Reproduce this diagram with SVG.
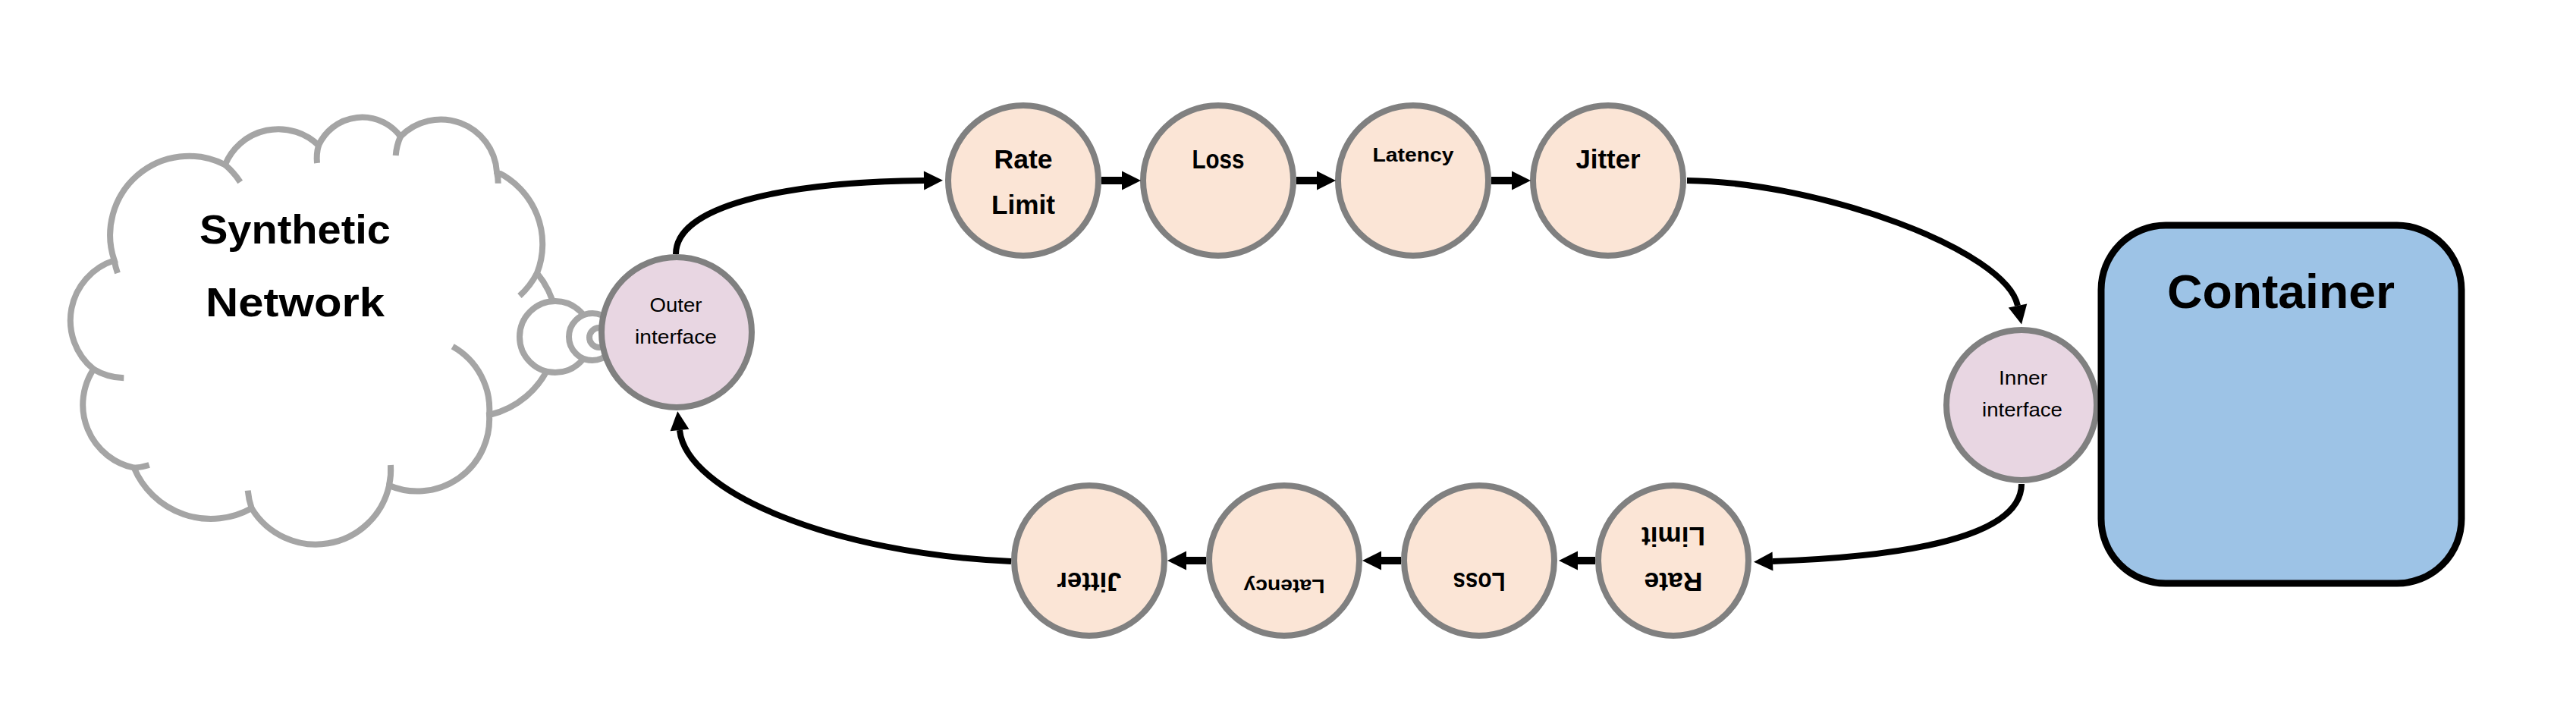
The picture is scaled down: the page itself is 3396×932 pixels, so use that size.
<svg xmlns="http://www.w3.org/2000/svg" width="3396" height="932" viewBox="0 0 3396 932">
  <style>
    .cloud { fill: #FFFFFF; stroke: #A5A5A5; stroke-width: 8; }
    .poke { fill: none; stroke: #A5A5A5; stroke-width: 8; }
    .bub { fill: #FFFFFF; stroke: #A5A5A5; stroke-width: 8; }
    .stage { fill: #FBE5D6; stroke: #808080; stroke-width: 8; }
    .iface { fill: #E8D6E2; stroke: #808080; stroke-width: 8; }
    .box { fill: #9DC3E6; stroke: #000000; stroke-width: 9; }
    .lbl { font-family: "Liberation Sans", Arial, sans-serif; fill: #000000; text-anchor: middle; }
    .b { font-weight: bold; }
    .big { font-size: 35px; }
    .mid { font-size: 26px; }
    .small { font-size: 26px; }
    .conn { fill: none; stroke: #000000; stroke-width: 8; marker-end: url(#ah); }
    .short { fill: none; stroke: #000000; stroke-width: 10; marker-end: url(#ah); }
  </style>
  <defs>
    <marker id="ah" markerUnits="userSpaceOnUse" markerWidth="26" markerHeight="26" refX="0" refY="12.5" orient="auto" overflow="visible">
      <path d="M0,0 L25,12.5 L0,25 Z" fill="#000000"/>
    </marker>
  </defs>
  <rect x="0" y="0" width="3396" height="932" fill="#FFFFFF"/>

  <g id="synthetic-network">
    <path class="cloud" d="M150.7,343.3 A104,104 0 0 1 296.7,217.3 A76,76 0 0 1 420,191.7 A63,63 0 0 1 528,180 A74,74 0 0 1 655,226.7 A105,105 0 0 1 708,360 A116,116 0 0 1 645,547 A95,95 0 0 1 513,640 A99,99 0 0 1 331.7,670 A110,110 0 0 1 176.7,616.7 A85,85 0 0 1 123.3,486.7 A83,83 0 0 1 150.7,343.3 Z"/>
    <path class="poke" d="M155,360 A104,104 0 0 1 150.7,343.3"/>
    <path class="poke" d="M296.7,217.3 A104,104 0 0 1 316.7,240"/>
    <path class="poke" d="M418,215 A63,63 0 0 1 420,191.7"/>
    <path class="poke" d="M521.7,205 A74,74 0 0 1 528,180"/>
    <path class="poke" d="M655,226.7 A74,74 0 0 1 656.7,241.7"/>
    <path class="poke" d="M708,360 A105,105 0 0 1 685,390"/>
    <path class="poke" d="M596.7,456.7 A95,95 0 0 1 645,547"/>
    <path class="poke" d="M515,613 A99,99 0 0 1 513,640"/>
    <path class="poke" d="M331.7,670 A99,99 0 0 1 326.7,646.7"/>
    <path class="poke" d="M196.7,613 A85,85 0 0 1 176.7,616.7"/>
    <path class="poke" d="M163.3,498.3 A83,83 0 0 1 123.3,486.7"/>
    <circle class="bub" cx="732" cy="444" r="47"/>
    <circle class="bub" cx="781" cy="444" r="31"/>
    <circle class="bub" cx="790" cy="445" r="13"/>
    <text class="lbl b" x="389" y="321" font-size="54" textLength="252" lengthAdjust="spacingAndGlyphs">Synthetic</text>
    <text class="lbl b" x="389" y="417" font-size="54" textLength="236" lengthAdjust="spacingAndGlyphs">Network</text>
  </g>

  <g id="outer-interface">
    <circle class="iface" cx="892" cy="438" r="99"/>
    <text class="lbl small" x="891" y="411" textLength="69" lengthAdjust="spacingAndGlyphs">Outer</text>
    <text class="lbl small" x="891" y="453" textLength="108" lengthAdjust="spacingAndGlyphs">interface</text>
  </g>

  <g id="rate-limit-egress">
    <circle class="stage" cx="1349" cy="238" r="99"/>
    <text class="lbl b big" x="1349" y="222" textLength="77" lengthAdjust="spacingAndGlyphs">Rate</text>
    <text class="lbl b big" x="1349" y="282" textLength="84" lengthAdjust="spacingAndGlyphs">Limit</text>
  </g>
  <g id="loss-egress">
    <circle class="stage" cx="1606" cy="238" r="99"/>
    <text class="lbl b big" x="1606" y="222" textLength="69" lengthAdjust="spacingAndGlyphs">Loss</text>
  </g>
  <g id="latency-egress">
    <circle class="stage" cx="1863" cy="238" r="99"/>
    <text class="lbl b mid" x="1863" y="213" textLength="107" lengthAdjust="spacingAndGlyphs">Latency</text>
  </g>
  <g id="jitter-egress">
    <circle class="stage" cx="2120" cy="238" r="99"/>
    <text class="lbl b big" x="2120" y="222" textLength="85" lengthAdjust="spacingAndGlyphs">Jitter</text>
  </g>

  <g id="inner-interface">
    <circle class="iface" cx="2665" cy="534" r="99"/>
    <text class="lbl small" x="2667" y="507" textLength="64" lengthAdjust="spacingAndGlyphs">Inner</text>
    <text class="lbl small" x="2666" y="549" textLength="106" lengthAdjust="spacingAndGlyphs">interface</text>
  </g>

  <g id="container">
    <rect class="box" x="2770" y="297" width="475" height="472" rx="85" ry="85"/>
    <text class="lbl b" x="3007" y="406" font-size="63" textLength="300" lengthAdjust="spacingAndGlyphs">Container</text>
  </g>

  <g id="rate-limit-ingress">
    <circle class="stage" cx="2206" cy="739" r="99"/>
    <g transform="rotate(180 2206 739)">
      <text class="lbl b big" x="2206" y="723" textLength="77" lengthAdjust="spacingAndGlyphs">Rate</text>
      <text class="lbl b big" x="2206" y="783" textLength="84" lengthAdjust="spacingAndGlyphs">Limit</text>
    </g>
  </g>
  <g id="loss-ingress">
    <circle class="stage" cx="1950" cy="739" r="99"/>
    <text class="lbl b big" x="1950" y="723" textLength="69" lengthAdjust="spacingAndGlyphs" transform="rotate(180 1950 739)">Loss</text>
  </g>
  <g id="latency-ingress">
    <circle class="stage" cx="1693" cy="739" r="99"/>
    <text class="lbl b mid" x="1693" y="714" textLength="107" lengthAdjust="spacingAndGlyphs" transform="rotate(180 1693 739)">Latency</text>
  </g>
  <g id="jitter-ingress">
    <circle class="stage" cx="1436" cy="739" r="99"/>
    <text class="lbl b big" x="1436" y="723" textLength="85" lengthAdjust="spacingAndGlyphs" transform="rotate(180 1436 739)">Jitter</text>
  </g>

  <g id="connectors">
    <path class="conn" d="M891,335 C891,272 1030,240 1218,238"/>
    <path class="short" d="M1452,238 L1479,238"/>
    <path class="short" d="M1709,238 L1736,238"/>
    <path class="short" d="M1966,238 L1993,238"/>
    <path class="conn" d="M2224,238 C2400,240 2645,330 2660,403"/>
    <path class="conn" d="M2665,638 C2665,715 2480,735 2337,740"/>
    <path class="short" d="M2103,739 L2080,739"/>
    <path class="short" d="M1847,739 L1821,739"/>
    <path class="short" d="M1590,739 L1564,739"/>
    <path class="conn" d="M1333,740 C1100,730 905,650 896,567"/>
  </g>
</svg>
